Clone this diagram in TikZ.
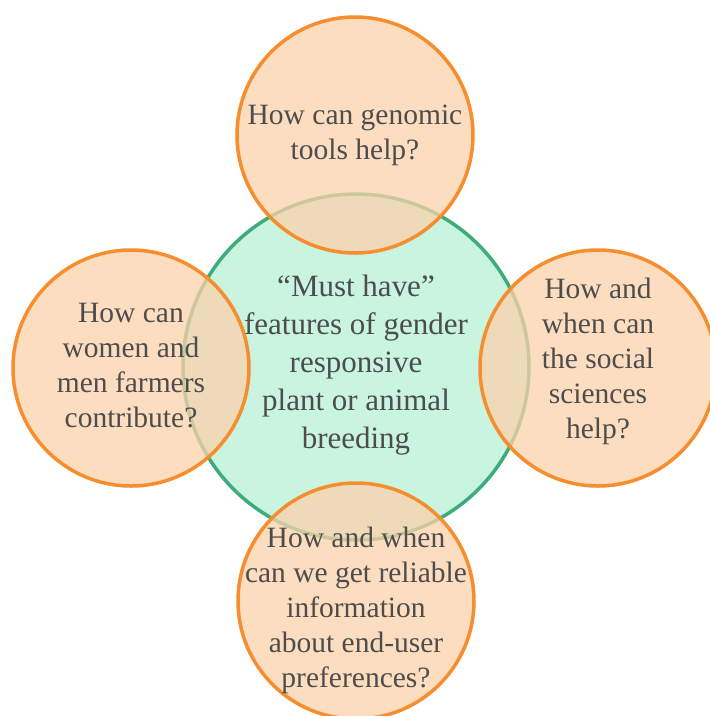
\documentclass[tikz,border=0pt]{standalone}
\usepackage{fontspec}
\setmainfont{Liberation Serif}
\usepackage{tikz}
\usetikzlibrary{positioning}
\definecolor{ringorange}{RGB}{246,141,46}
\definecolor{peach}{RGB}{252,210,171}
\definecolor{ringgreen}{RGB}{62,172,122}
\definecolor{mint}{RGB}{200,244,224}
\definecolor{inkgray}{RGB}{77,77,77}

\begin{document}
\begin{tikzpicture}[
  x=1pt, y=-1pt,
  hub/.style={circle, draw=ringgreen, fill=mint, line width=3.5pt, minimum size=346pt, inner sep=0pt},
  petal/.style={circle, draw=ringorange, fill=peach, fill opacity=0.75, draw opacity=1, line width=3.5pt, minimum size=236pt, inner sep=0pt},
  question/.style={align=center, text=inkgray, font=\fontsize{29.5}{35}\selectfont, inner sep=0pt},
  theme/.style={align=center, text=inkgray, font=\fontsize{31}{38}\selectfont, inner sep=0pt}
]
  \useasboundingbox (0,0) rectangle (710,716);

  % Circles
  \node[hub] (core) at (356,367) {};
  \node[petal] (top) at (355,135) {};
  \node[petal] (left) at (131,368) {};
  \node[petal] (right) at (598,368) {};
  \node[petal] (bottom) at (356,601) {};

  % Texts
  \node[theme] (coretxt) at ([yshift=2pt]core) {``Must have''\\features of gender\\responsive\\plant or animal\\breeding};
  \node[question] (toptxt) at (top) {How can genomic\\tools help?};
  \node[question] (lefttxt) at ([yshift=2pt]left) {How can\\women and\\men farmers\\contribute?};
  \node[question] (righttxt) at ([yshift=7pt]right) {How and\\when can\\the social\\sciences\\help?};
  \node[question] (bottomtxt) at ([yshift=-9pt]bottom) {How and when\\can we get reliable\\information\\about end-user\\preferences?};

\end{tikzpicture}
\end{document}
